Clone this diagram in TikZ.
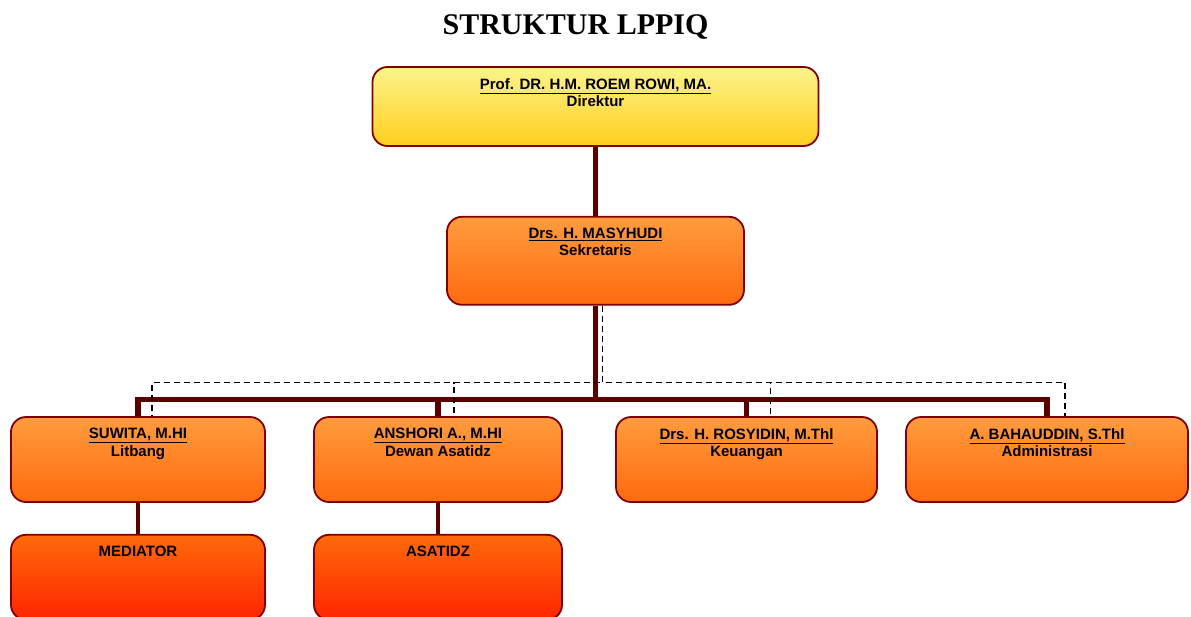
\documentclass[tikz,border=0pt]{standalone}
\usepackage{fontspec}
\setmainfont{Liberation Sans}
\newfontfamily\titlefont{Liberation Serif}
\usetikzlibrary{positioning}
\definecolor{boxline}{HTML}{800000}
\definecolor{linkline}{HTML}{5A0000}
\definecolor{yelTop}{HTML}{FBF38C}
\definecolor{yelBot}{HTML}{FFCF1C}
\definecolor{orTop}{HTML}{FF9C3E}
\definecolor{orBot}{HTML}{FF6A0E}
\definecolor{redTop}{HTML}{FF6A0A}
\definecolor{redBot}{HTML}{FF2400}

\begin{document}
\begin{tikzpicture}[x=1pt, y=-1pt,
        every node/.style={font=\fontsize{15}{17.5}\selectfont\bfseries},
        unit/.style={rectangle, draw=boxline, line width=1.8pt, rounded corners=15pt, minimum width=#1, minimum height=85pt, top color=orTop, bottom color=orBot},
        lbl/.style={anchor=north, yshift=-8.5pt, align=center},
        trunk/.style={draw=linkline, line width=5.5pt},
        branch/.style={draw=linkline, line width=4pt},
        dashlink/.style={draw=black, line width=1.4pt, dash pattern=on 6pt off 4pt}
    ]
    \useasboundingbox (0,0) rectangle (1191,616);
%
    \node[font=\titlefont\fontsize{30}{34}\selectfont\bfseries] (title) at (575.5,27) {STRUKTUR LPPIQ};
%
    \node[unit=446pt, minimum height=79pt, top color=yelTop, bottom color=yelBot, label={[lbl]north:{\underline{Prof. DR. H.M. ROEM ROWI, MA.}\\Direktur}}] (dir) at (595.5,106.5) {};
    \node[unit=297pt, minimum height=88pt, below=69pt of dir, label={[lbl]north:{\underline{Drs. H. MASYHUDI}\\Sekretaris}}] (sek) {};
%
    \node[unit=254pt, label={[lbl]north:{\underline{SUWITA, M.HI}\\Litbang}}] (suwita) at (138,459.5) {};
    \node[unit=248pt, label={[lbl]north:{\underline{ANSHORI A., M.HI}\\Dewan Asatidz}}] (anshori) at (438,459.5) {};
    \node[unit=261pt, label={[lbl]north:{\underline{Drs. H. ROSYIDIN, M.Thl}\\Keuangan}}] (rosyidin) at (746.5,459.5) {};
    \node[unit=282pt, label={[lbl]north:{\underline{A. BAHAUDDIN, S.Thl}\\Administrasi}}] (bahauddin) at (1047,459.5) {};
%
    \node[unit=254pt, top color=redTop, bottom color=redBot, below=31pt of suwita, label={[lbl]north:MEDIATOR}] (mediator) {};
    \node[unit=248pt, top color=redTop, bottom color=redBot, below=31pt of anshori, label={[lbl]north:ASATIDZ}] (asatidz) {};
%
    \draw[trunk] (dir) -- (sek);
    \foreach \n in {suwita, anshori, rosyidin, bahauddin}
        \draw[trunk] (sek.south) -- ++(0,94) -| (\n);
    \draw[branch] (suwita) -- (mediator);
    \draw[branch] (anshori) -- (asatidz);
%
    % dashed line to the four units
    \draw[dashlink] ([xshift=7pt]sek.south) -- ++(0,77) -| ([xshift=14pt]suwita.north);
    \draw[dashlink] ([xshift=7pt]sek.south) -- ++(0,77) -| ([xshift=16pt]anshori.north);
    \draw[dashlink] ([xshift=7pt]sek.south) -- ++(0,77) -| ([xshift=24pt]rosyidin.north);
    \draw[dashlink] ([xshift=7pt]sek.south) -- ++(0,77) -| ([xshift=18pt]bahauddin.north);
%
\end{tikzpicture}
\end{document}
